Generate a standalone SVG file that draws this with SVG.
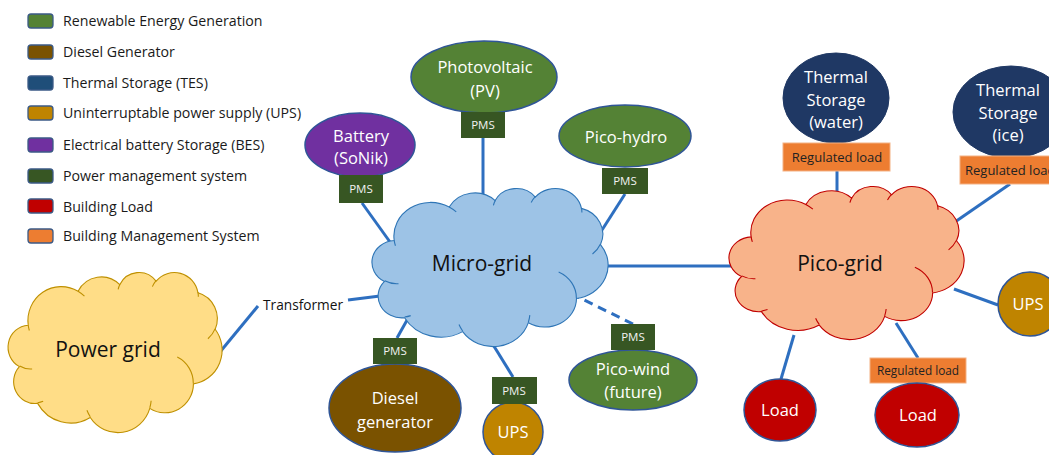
<svg xmlns="http://www.w3.org/2000/svg" width="1049" height="455" viewBox="0 0 1049 455">
  <style>
    text { font-family: "Open Sans", "Liberation Sans", sans-serif; }
    .legend-text { font-size: 14.2px; fill: #1a1a1a; }
    .swatch { stroke: #3b5a86; stroke-width: 1.3; }
    .conn { stroke: #2e6fc0; stroke-width: 3; fill: none; }
    .dash { stroke-dasharray: 9 6; }
    .cloud { stroke-width: 1.1; }
    .crease { fill: none; stroke-width: 1.1; }
    .cloud-label { font-size: 21px; fill: #111; text-anchor: middle; }
    .node { stroke: #2f5597; stroke-width: 1.5; }
    .label { font-size: 16.5px; fill: #fff; text-anchor: middle; }
    .pms { fill: #375623; }
    .pms-text { font-size: 11.5px; fill: #f2f2f2; text-anchor: middle; }
    .reg { fill: #ed7d31; stroke: #f4b183; stroke-width: 1; }
    .reg-text { font-size: 13px; fill: #222; text-anchor: middle; }
    .green { fill: #548235; }
    .brown { fill: #7a5200; }
    .navy { fill: #1f3864; stroke: #1f3864; }
    .ups { fill: #bf8400; }
    .purple { fill: #7030a0; }
    .red { fill: #c00000; }
  </style>
  <defs>
    <!-- cloud outline in a 100 x 100 box; stroke keeps its width when the box is scaled -->
    <path id="cloudShape" vector-effect="non-scaling-stroke" d="M9.03,33.26 A15.63,21.27 0 0 1 32.42,12.04 A12.34,16.82 0 0 1 51.98,7.94 A10.10,13.76 0 0 1 69.06,5.74 A11.24,15.27 0 0 1 88.70,12.91 A12.34,16.84 0 0 1 96.80,35.78 A15.68,21.34 0 0 1 86.59,69.92 A13.39,18.21 0 0 1 66.10,85.22 A15.63,21.33 0 0 1 38.15,90.90 A17.87,24.41 0 0 1 13.44,82.11 A10.09,13.70 0 0 1 4.89,59.15 A10.06,13.76 0 0 1 9.03,33.26 Z"/>
    <!-- inner fold lines of the cloud -->
    <path id="cloudCreases" vector-effect="non-scaling-stroke" d="M10.86,60.59 A10.06,13.76 0 0 1 5.00,58.75 M16.04,80.78 A10.09,13.70 0 0 1 13.47,81.67 M38.14,90.49 A15.63,21.33 0 0 1 36.59,86.45 M66.73,80.44 A15.63,21.33 0 0 1 66.11,84.86 M79.00,53.13 A13.39,18.21 0 0 1 86.53,69.65 M96.75,35.54 A12.34,16.84 0 0 1 93.40,41.74 M88.71,12.56 A11.24,15.27 0 0 1 88.89,15.48 M67.31,9.15 A11.24,15.27 0 0 1 69.03,5.41 M51.25,10.93 A10.10,13.76 0 0 1 52.08,7.71 M32.41,12.02 A15.63,21.27 0 0 1 35.42,15.14 M9.55,36.55 A15.63,21.27 0 0 1 9.03,33.26"/>
  </defs>

  <rect width="1049" height="455" fill="#ffffff"/>

  <!-- legend -->
  <g id="legend">
    <rect class="swatch" x="28" y="14" width="25" height="14" rx="3" fill="#548235"/>
    <text class="legend-text" x="63" y="26">Renewable Energy Generation</text>
    <rect class="swatch" x="28" y="45" width="25" height="14" rx="3" fill="#7a5200"/>
    <text class="legend-text" x="63" y="57">Diesel Generator</text>
    <rect class="swatch" x="28" y="76" width="25" height="14" rx="3" fill="#1f4e79"/>
    <text class="legend-text" x="63" y="88">Thermal Storage (TES)</text>
    <rect class="swatch" x="28" y="106" width="25" height="14" rx="3" fill="#bf8400"/>
    <text class="legend-text" x="63" y="118">Uninterruptable power supply (UPS)</text>
    <rect class="swatch" x="28" y="138" width="25" height="14" rx="3" fill="#7030a0"/>
    <text class="legend-text" x="63" y="150">Electrical battery Storage (BES)</text>
    <rect class="swatch" x="28" y="169" width="25" height="14" rx="3" fill="#375623"/>
    <text class="legend-text" x="63" y="181">Power management system</text>
    <rect class="swatch" x="28" y="199" width="25" height="14" rx="3" fill="#c00000"/>
    <text class="legend-text" x="63" y="212">Building Load</text>
    <rect class="swatch" x="28" y="229" width="25" height="14" rx="3" fill="#ed7d31"/>
    <text class="legend-text" x="63" y="241">Building Management System</text>
  </g>

  <!-- connectors -->
  <g id="connectors">
    <line class="conn" x1="483" y1="138" x2="483" y2="195"/>
    <line class="conn" x1="362" y1="203" x2="390" y2="242"/>
    <line class="conn" x1="625" y1="194" x2="602" y2="230"/>
    <line class="conn" x1="220" y1="352" x2="258" y2="306"/>
    <line class="conn" x1="348" y1="300" x2="380" y2="296"/>
    <line class="conn" x1="397" y1="338" x2="411" y2="313"/>
    <line class="conn" x1="513" y1="377" x2="492" y2="343"/>
    <line class="conn dash" x1="633" y1="324" x2="578" y2="297"/>
    <line class="conn" x1="605" y1="266" x2="734" y2="266"/>
    <line class="conn" x1="837" y1="171" x2="837" y2="194"/>
    <line class="conn" x1="1010" y1="184" x2="952" y2="224"/>
    <line class="conn" x1="998" y1="305" x2="954" y2="289"/>
    <line class="conn" x1="781" y1="379" x2="794" y2="335"/>
    <line class="conn" x1="918" y1="358" x2="896" y2="323"/>
  </g>

  <!-- clouds -->
  <g id="power-grid">
    <g transform="translate(9,272) scale(2.13,1.6)">
      <use href="#cloudShape" class="cloud" fill="#ffdd87" stroke="#bf9000"/>
      <use href="#cloudCreases" class="crease" stroke="#bf9000"/>
    </g>
    <text class="cloud-label" x="108" y="357">Power grid</text>
  </g>

  <g id="micro-grid">
    <g transform="translate(373,188) scale(2.35,1.58)">
      <use href="#cloudShape" class="cloud" fill="#9dc3e6" stroke="#2e75b6"/>
      <use href="#cloudCreases" class="crease" stroke="#2e75b6"/>
    </g>
    <text class="cloud-label" x="482" y="271">Micro-grid</text>
  </g>

  <g id="pico-grid">
    <g transform="translate(730,186) scale(2.34,1.53)">
      <use href="#cloudShape" class="cloud" fill="#f8b38a" stroke="#c00000"/>
      <use href="#cloudCreases" class="crease" stroke="#c00000"/>
    </g>
    <text class="cloud-label" x="840" y="271">Pico-grid</text>
  </g>

  <!-- transformer label -->
  <g id="transformer">
    <text x="263" y="310" font-size="13.7" fill="#111">Transformer</text>
  </g>

  <!-- micro-grid sources -->
  <g id="photovoltaic">
    <ellipse class="node green" cx="484" cy="77" rx="73" ry="36"/>
    <text class="label" x="485" y="73">Photovoltaic</text>
    <text class="label" x="485" y="97">(PV)</text>
    <rect class="pms" x="461" y="112" width="44" height="26"/>
    <text class="pms-text" x="483" y="129">PMS</text>
  </g>

  <g id="battery">
    <ellipse class="node purple" cx="360" cy="145" rx="55" ry="32"/>
    <text class="label" x="361" y="142">Battery</text>
    <text class="label" x="361" y="164">(SoNik)</text>
    <rect class="pms" x="339" y="175" width="44" height="28"/>
    <text class="pms-text" x="361" y="193">PMS</text>
  </g>

  <g id="pico-hydro">
    <ellipse class="node green" cx="625" cy="136" rx="66" ry="31"/>
    <text class="label" x="626" y="143">Pico-hydro</text>
    <rect class="pms" x="602" y="168" width="46" height="26"/>
    <text class="pms-text" x="625" y="185">PMS</text>
  </g>

  <g id="diesel">
    <ellipse class="node brown" cx="395" cy="408" rx="66" ry="44"/>
    <text class="label" x="395" y="404">Diesel</text>
    <text class="label" x="395" y="428">generator</text>
    <rect class="pms" x="373" y="338" width="44" height="26"/>
    <text class="pms-text" x="395" y="355">PMS</text>
  </g>

  <g id="ups-micro">
    <circle class="node ups" cx="513" cy="432" r="30"/>
    <text class="label" x="513" y="438">UPS</text>
    <rect class="pms" x="492" y="377" width="45" height="27"/>
    <text class="pms-text" x="514" y="395">PMS</text>
  </g>

  <g id="pico-wind">
    <ellipse class="node green" cx="633" cy="380" rx="64" ry="30"/>
    <text class="label" x="633" y="375">Pico-wind</text>
    <text class="label" x="633" y="398">(future)</text>
    <rect class="pms" x="611" y="324" width="44" height="26"/>
    <text class="pms-text" x="633" y="341">PMS</text>
  </g>

  <!-- pico-grid members -->
  <g id="thermal-water">
    <ellipse class="navy" cx="836" cy="98" rx="53" ry="45"/>
    <text class="label" x="836" y="83">Thermal</text>
    <text class="label" x="836" y="106">Storage</text>
    <text class="label" x="836" y="128">(water)</text>
    <rect class="reg" x="783" y="143" width="107" height="28"/>
    <text class="reg-text" x="837" y="162">Regulated load</text>
  </g>

  <g id="thermal-ice">
    <ellipse class="navy" cx="1011" cy="112" rx="58" ry="46"/>
    <text class="label" x="1008" y="96">Thermal</text>
    <text class="label" x="1008" y="119">Storage</text>
    <text class="label" x="1008" y="141">(ice)</text>
    <!-- this tag runs past the right edge of the drawing -->
    <rect class="reg" x="960" y="156" width="100" height="28"/>
    <text class="reg-text" x="965" y="175" style="text-anchor:start">Regulated load</text>
  </g>

  <g id="ups-pico">
    <circle class="node ups" cx="1030" cy="304" r="32"/>
    <text class="label" x="1028" y="310">UPS</text>
  </g>

  <g id="load-1">
    <ellipse class="node red" cx="780" cy="410" rx="36" ry="31"/>
    <text class="label" x="780" y="416">Load</text>
  </g>

  <g id="load-2">
    <rect class="reg" x="870" y="358" width="96" height="25"/>
    <text class="reg-text" x="918" y="375" style="font-size:11.8px">Regulated load</text>
    <ellipse class="node red" cx="917" cy="415" rx="42" ry="32"/>
    <text class="label" x="918" y="421">Load</text>
  </g>
</svg>
